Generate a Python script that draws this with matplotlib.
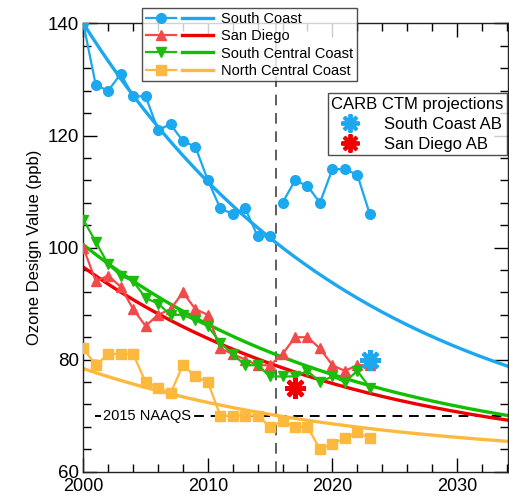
import numpy as np
import matplotlib
matplotlib.use("Agg")
import matplotlib.pyplot as plt
from matplotlib.lines import Line2D
from matplotlib.legend_handler import HandlerTuple
from matplotlib.ticker import MultipleLocator

plt.rcParams['font.family'] = ['Liberation Sans', 'DejaVu Sans']

years_a = list(range(2000, 2016))
years_b = list(range(2016, 2024))

south_coast_a = [140, 129, 128, 131, 127, 127, 121, 122, 119, 118, 112, 107, 106, 107, 102, 102]
south_coast_b = [108, 112, 111, 108, 114, 114, 113, 106]
san_diego_a = [100, 94, 95, 93, 89, 86, 88, 89, 92, 89, 88, 82, 81, 80, 79, 79]
san_diego_b = [81, 84, 84, 82, 79, 78, 79, 79]
scc_a = [105, 101, 97, 95, 94, 91, 90, 88, 88, 87, 86, 83, 81, 79, 79, 77]
scc_b = [77, 77, 78, 76, 77, 76, 78, 75]
ncc_a = [82, 79, 81, 81, 81, 76, 75, 74, 79, 77, 76, 70, 70, 70, 70, 68]
ncc_b = [69, 68, 68, 64, 65, 66, 67, 66]

# exponential fit parameters: y = offset + amp * exp(-rate * (year - 2000))
fit_offset = [62, 62, 62, 62]
fit_amp = [78, 34.5, 38.5, 16.4]
fit_rate = [0.045, 0.046, 0.046, 0.046]

proj_years = [2023, 2017]
proj_values = [80, 75]
proj_labels = ['South Coast AB', 'San Diego AB']

names = ['South Coast', 'San Diego', 'South Central Coast', 'North Central Coast']
data_colors = ['#1BA8EE', '#F24A4A', '#1DBB0C', '#FDB93E']
fit_colors = ['#1BA8EE', '#EE0000', '#10C000', '#FDB93E']
markers = ['o', '^', 'v', 's']
proj_colors = ['#1BA8EE', '#EE0000']

fig = plt.figure(figsize=(5.1, 4.95), dpi=100)
ax = fig.add_axes([0.1634, 0.0471, 0.8326, 0.9055])

series = [(south_coast_a, south_coast_b), (san_diego_a, san_diego_b),
          (scc_a, scc_b), (ncc_a, ncc_b)]
xf = np.linspace(2000, 2035, 300)
handles = []
for i, (sa, sb) in enumerate(series):
    joined = i != 0
    if joined:
        ax.plot(years_a + years_b, sa + sb, color=data_colors[i], marker=markers[i],
                ms=7, lw=1.6, zorder=3)
    else:
        ax.plot(years_a, sa, color=data_colors[i], marker=markers[i], ms=7, lw=1.6, zorder=3)
        ax.plot(years_b, sb, color=data_colors[i], marker=markers[i], ms=7, lw=1.6, zorder=3)
    yf = fit_offset[i] + fit_amp[i] * np.exp(-fit_rate[i] * (xf - 2000))
    ax.plot(xf, yf, color=fit_colors[i], lw=2.4, zorder=2)
    h1 = Line2D([], [], color=data_colors[i], marker=markers[i], ms=7, lw=1.6)
    h2 = Line2D([], [], color=fit_colors[i], lw=2.4)
    handles.append((h1, h2))

# NAAQS line and 2015 divider
ax.plot([2000.9, 2035], [70, 70], color='black', lw=1.4, ls=(0, (5, 3.5)), zorder=1)
ax.text(2001.55, 70, '2015 NAAQS', fontsize=10.5, va='center', ha='left',
        bbox=dict(facecolor='white', edgecolor='none', pad=1.5), zorder=1.5)
ax.axvline(2015.5, color='#333333', lw=1.1, ls=(0, (7, 5)), zorder=1)

# projections
ph = []
for j in range(2):
    ax.plot(proj_years[j], proj_values[j], ls='none', marker=(8, 2, 0), ms=15,
            mew=3.0, color=proj_colors[j], zorder=4)
    ph.append(Line2D([], [], ls='none', marker=(8, 2, 0), ms=13, mew=2.8, color=proj_colors[j]))

ax.set_xlim(2000, 2034.1)
ax.set_ylim(60, 140)
ax.xaxis.set_major_locator(MultipleLocator(10))
ax.xaxis.set_minor_locator(MultipleLocator(2))
ax.yaxis.set_major_locator(MultipleLocator(20))
ax.yaxis.set_minor_locator(MultipleLocator(4))
ax.tick_params(which='both', direction='in', top=True, right=True, labelsize=13.5, width=1)
ax.tick_params(which='major', length=10)
ax.tick_params(which='minor', length=6)
ax.tick_params(axis='x', pad=4.8, labelsize=13)
ax.tick_params(axis='y', pad=3)
for s in ax.spines.values():
    s.set_linewidth(1)
    s.set_color('#222222')
ax.set_ylabel('Ozone Design Value (ppb)', fontsize=12, labelpad=4)

leg1 = ax.legend(handles, names, handler_map={tuple: HandlerTuple(ndivide=None, pad=0.4)},
                 loc='upper left', bbox_to_anchor=(0.138, 1.0 + 15 / 448.2), fontsize=10.5,
                 frameon=True, fancybox=False, edgecolor='#222222', handlelength=4.6,
                 handletextpad=0.6, labelspacing=0.22, borderpad=0.25, borderaxespad=0)
leg1.get_frame().set_linewidth(1)
leg1.set_zorder(10)
ax.add_artist(leg1)

leg2 = ax.legend(ph, proj_labels, title='CARB CTM projections', title_fontsize=12,
                 loc='upper left', bbox_to_anchor=(0.576, 1.0 - 70 / 448.2), fontsize=12,
                 frameon=True, fancybox=False, edgecolor='#222222', handlelength=2.0,
                 handletextpad=1.0, labelspacing=0.3, borderpad=0.2, borderaxespad=0)
leg2.get_frame().set_linewidth(1)
leg2.set_zorder(10)

fig.savefig('out.png', dpi=100)
